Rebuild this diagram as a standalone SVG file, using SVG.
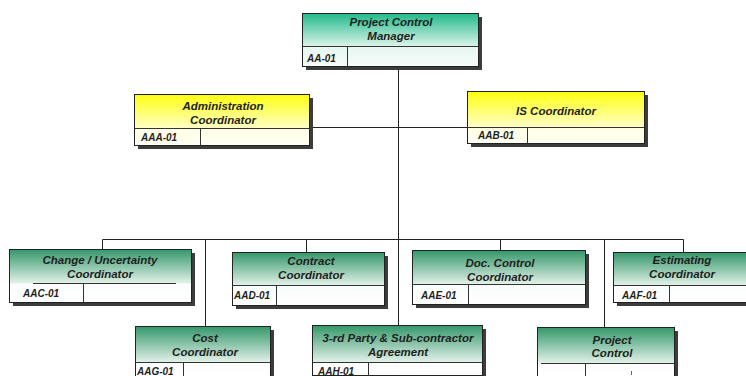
<svg xmlns="http://www.w3.org/2000/svg" width="746" height="376" viewBox="0 0 746 376">
  <defs>
    <linearGradient id="gTeal" x1="0" y1="0" x2="0" y2="1">
      <stop offset="0" stop-color="#22b98a"/>
      <stop offset="1" stop-color="#dcf4ea"/>
    </linearGradient>
    <linearGradient id="gTealLow" x1="0" y1="0" x2="0" y2="1">
      <stop offset="0" stop-color="#e6f6f0"/>
      <stop offset="1" stop-color="#f6fcf9"/>
    </linearGradient>
    <linearGradient id="gYellow" x1="0" y1="0" x2="0" y2="1">
      <stop offset="0" stop-color="#ffff10"/>
      <stop offset="1" stop-color="#ffffc8"/>
    </linearGradient>
    <linearGradient id="gYellowLow" x1="0" y1="0" x2="0" y2="1">
      <stop offset="0" stop-color="#ffffe4"/>
      <stop offset="1" stop-color="#fffff4"/>
    </linearGradient>
    <linearGradient id="gGreen" x1="0" y1="0" x2="0" y2="1">
      <stop offset="0" stop-color="#34976a"/>
      <stop offset="1" stop-color="#e4f2ea"/>
    </linearGradient>
    <linearGradient id="gGreenLow" x1="0" y1="0" x2="0" y2="1">
      <stop offset="0" stop-color="#eef7f2"/>
      <stop offset="1" stop-color="#ffffff"/>
    </linearGradient>
  </defs>
  <style>
    .shadow { fill: #3c3c3c; }
    .frame { fill: none; stroke: #222; stroke-width: 1; }
    .rule { stroke: #333; stroke-width: 1; fill: none; }
    .title { font-family: "Liberation Sans", Arial, sans-serif; font-size: 11.5px; font-weight: bold; font-style: italic; fill: #1e1e1e; text-anchor: middle; }
    .code { font-family: "Liberation Sans", Arial, sans-serif; font-size: 10px; font-weight: bold; font-style: italic; fill: #1e1e1e; }
    .wire { stroke: #222; stroke-width: 1; fill: none; }
  </style>

  <rect width="746" height="376" fill="#ffffff"/>

  <!-- connectors -->
  <g id="connectors">
    <path class="wire" d="M398.5 67 V325"/>
    <path class="wire" d="M309 127.5 H467"/>
    <path class="wire" d="M102.5 239.5 H683.5"/>
    <path class="wire" d="M102.5 239.5 V249"/>
    <path class="wire" d="M205.5 239.5 V326"/>
    <path class="wire" d="M306.5 239.5 V252"/>
    <path class="wire" d="M500.5 239.5 V250"/>
    <path class="wire" d="M604.5 239.5 V327"/>
    <path class="wire" d="M683.5 239.5 V252"/>
  </g>

  <!-- top manager -->
  <g id="node-aa01">
    <rect class="shadow" x="306" y="17" width="176" height="53"/>
    <rect x="302.5" y="13.5" width="176" height="33" fill="url(#gTeal)"/>
    <rect x="302.5" y="46.5" width="176" height="20" fill="url(#gTealLow)"/>
    <rect class="frame" x="302.5" y="13.5" width="176" height="53"/>
    <path class="rule" d="M302.5 46.5 H478.5 M347.5 46.5 V66.5"/>
    <text class="title" x="391" y="26">Project Control</text>
    <text class="title" x="391" y="40">Manager</text>
    <text class="code" x="307" y="62">AA-01</text>
  </g>

  <!-- administration -->
  <g id="node-aaa01">
    <rect class="shadow" x="138" y="98" width="175" height="51"/>
    <rect x="134.5" y="94.5" width="175" height="34" fill="url(#gYellow)"/>
    <rect x="134.5" y="128.5" width="175" height="17" fill="url(#gYellowLow)"/>
    <rect class="frame" x="134.5" y="94.5" width="175" height="51"/>
    <path class="rule" d="M134.5 128.5 H309.5 M200.5 128.5 V145.5"/>
    <text class="title" x="223" y="110">Administration</text>
    <text class="title" x="223" y="124">Coordinator</text>
    <text class="code" x="141" y="141">AAA-01</text>
  </g>

  <!-- IS -->
  <g id="node-aab01">
    <rect class="shadow" x="471" y="95" width="177" height="52"/>
    <rect x="467.5" y="91.5" width="177" height="36" fill="url(#gYellow)"/>
    <rect x="467.5" y="127.5" width="177" height="16" fill="url(#gYellowLow)"/>
    <rect class="frame" x="467.5" y="91.5" width="177" height="52"/>
    <path class="rule" d="M467.5 127.5 H644.5 M527.5 127.5 V143.5"/>
    <text class="title" x="556" y="115">IS Coordinator</text>
    <text class="code" x="478" y="139">AAB-01</text>
  </g>

  <!-- second row -->
  <g id="node-aac01">
    <rect class="shadow" x="13" y="253" width="182" height="53"/>
    <rect x="9.5" y="249.5" width="182" height="53" fill="url(#gGreenLow)"/>
    <rect x="9.5" y="249.5" width="182" height="34" fill="url(#gGreen)"/>
    <rect class="frame" x="9.5" y="249.5" width="182" height="53"/>
    <path class="rule" d="M33 283.5 H176 M83.5 283.5 V302.5"/>
    <text class="title" x="100" y="264">Change / Uncertainty</text>
    <text class="title" x="100" y="278">Coordinator</text>
    <text class="code" x="23" y="297">AAC-01</text>
  </g>

  <g id="node-aad01">
    <rect class="shadow" x="236" y="256" width="152" height="53"/>
    <rect x="232.5" y="252.5" width="152" height="53" fill="url(#gGreenLow)"/>
    <rect x="232.5" y="252.5" width="152" height="33" fill="url(#gGreen)"/>
    <rect class="frame" x="232.5" y="252.5" width="152" height="53"/>
    <path class="rule" d="M232.5 285.5 H387 M276.5 285.5 V305.5"/>
    <text class="title" x="311" y="265">Contract</text>
    <text class="title" x="311" y="279">Coordinator</text>
    <text class="code" x="234" y="299">AAD-01</text>
  </g>

  <g id="node-aae01">
    <rect class="shadow" x="416" y="254" width="173" height="54"/>
    <rect x="412.5" y="250.5" width="173" height="54" fill="url(#gGreenLow)"/>
    <rect x="412.5" y="250.5" width="173" height="34" fill="url(#gGreen)"/>
    <rect class="frame" x="412.5" y="250.5" width="173" height="54"/>
    <path class="rule" d="M412.5 284.5 H585.5 M468.5 284.5 V304.5"/>
    <text class="title" x="500" y="267">Doc. Control</text>
    <text class="title" x="500" y="281">Coordinator</text>
    <text class="code" x="421" y="299">AAE-01</text>
  </g>

  <g id="node-aaf01">
    <rect class="shadow" x="617" y="256" width="140" height="50"/>
    <rect x="613.5" y="252.5" width="140" height="50" fill="url(#gGreenLow)"/>
    <rect x="613.5" y="252.5" width="140" height="33" fill="url(#gGreen)"/>
    <rect class="frame" x="613.5" y="252.5" width="140" height="50"/>
    <path class="rule" d="M613.5 285.5 H746 M669.5 285.5 V302.5"/>
    <text class="title" x="682" y="264">Estimating</text>
    <text class="title" x="682" y="278">Coordinator</text>
    <text class="code" x="622" y="299">AAF-01</text>
  </g>

  <!-- third row -->
  <g id="node-aag01">
    <rect class="shadow" x="139" y="330" width="135" height="50"/>
    <rect x="135.5" y="326.5" width="135" height="50" fill="url(#gGreenLow)"/>
    <rect x="135.5" y="326.5" width="135" height="36" fill="url(#gGreen)"/>
    <rect class="frame" x="135.5" y="326.5" width="135" height="50"/>
    <path class="rule" d="M135.5 362.5 H273 M183.5 362.5 V376"/>
    <text class="title" x="205" y="342">Cost</text>
    <text class="title" x="205" y="356">Coordinator</text>
    <text class="code" x="137" y="375">AAG-01</text>
  </g>

  <g id="node-aah01">
    <rect class="shadow" x="316" y="329" width="170" height="50"/>
    <rect x="312.5" y="325.5" width="170" height="50" fill="url(#gGreenLow)"/>
    <rect x="312.5" y="325.5" width="170" height="37" fill="url(#gGreen)"/>
    <rect class="frame" x="312.5" y="325.5" width="170" height="50"/>
    <path class="rule" d="M312.5 362.5 H482.5 M368.5 362.5 V376"/>
    <text class="title" x="398" y="342">3-rd Party &amp; Sub-contractor</text>
    <text class="title" x="398" y="356">Agreement</text>
    <text class="code" x="318" y="375">AAH-01</text>
  </g>

  <g id="node-project-control">
    <rect class="shadow" x="541" y="331" width="137" height="50"/>
    <rect x="537.5" y="327.5" width="137" height="50" fill="url(#gGreenLow)"/>
    <rect x="537.5" y="327.5" width="137" height="36" fill="url(#gGreen)"/>
    <rect class="frame" x="537.5" y="327.5" width="137" height="50"/>
    <path class="rule" d="M541 363.5 H675 M585.5 363.5 V376"/>
    <text class="title" x="612" y="344">Project</text>
    <text class="title" x="612" y="357">Control</text>
    <path d="M631.5 371 V375" stroke="#e03030" stroke-width="1"/>
  </g>
</svg>
